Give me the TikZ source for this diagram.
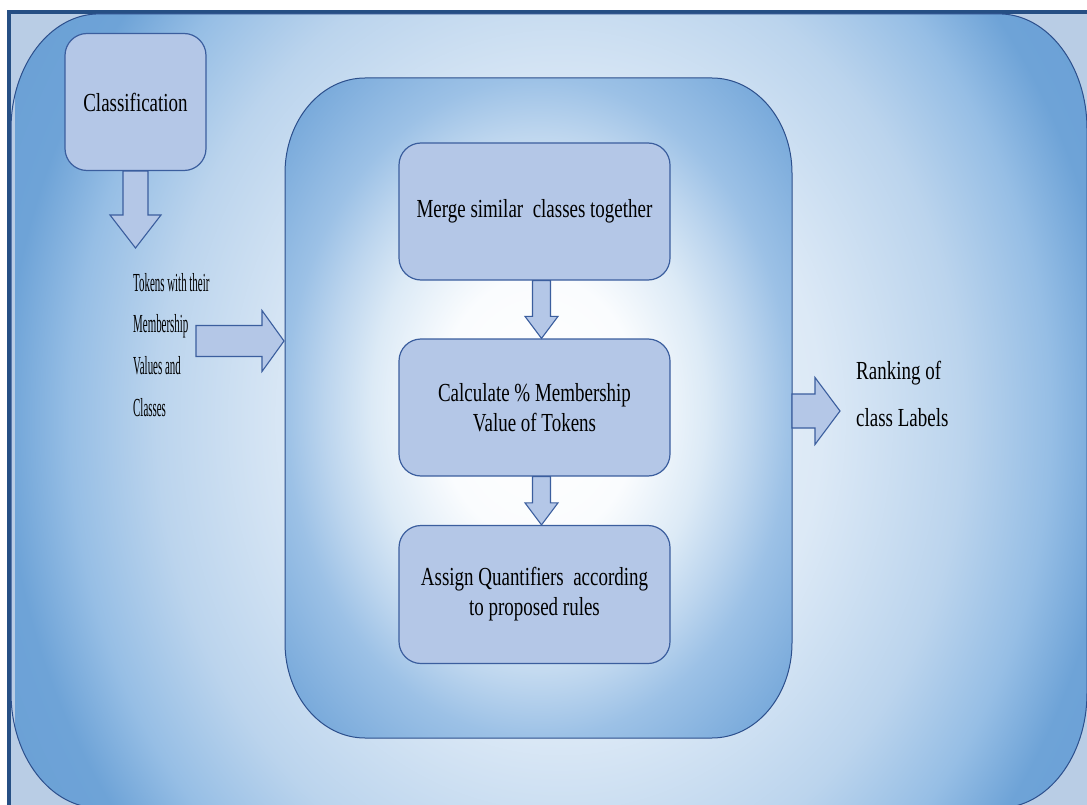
\documentclass[tikz,border=0pt]{standalone}
\usepackage{fontspec}
\setmainfont{Liberation Serif}
\newfontfamily\narrowserif[FakeStretch=0.73]{Liberation Serif}
\newfontfamily\slimserif[FakeStretch=0.42]{Liberation Serif}
\usetikzlibrary{calc}

\definecolor{framefill}{HTML}{B9CDE5}
\definecolor{frameline}{HTML}{264F84}
\definecolor{shapeline}{HTML}{2C4F8C}
\definecolor{boxfill}{HTML}{B4C7E7}
\definecolor{boxline}{HTML}{3B5E9E}

% background glow of the outer panel (25bp = edge of the shaded area)
\definecolor{og0}{HTML}{F1F6FC}
\definecolor{og1}{HTML}{DCE9F6}
\definecolor{og2}{HTML}{BBD4ED}
\definecolor{og3}{HTML}{96BEE5}
\definecolor{og4}{HTML}{6EA3D7}
\definecolor{og5}{HTML}{629AD3}
\pgfdeclareradialshading{outerglow}{\pgfpoint{0bp}{0bp}}{%
  color(0bp)=(og0); color(12bp)=(og1); color(18.5bp)=(og2);
  color(22.5bp)=(og3); color(25.5bp)=(og4); color(37.5bp)=(og5); color(50bp)=(og5)}

% glow of the central processing panel
\definecolor{ig0}{HTML}{FFFFFF}
\definecolor{ig1}{HTML}{FAFCFE}
\definecolor{ig2}{HTML}{DCEAF6}
\definecolor{ig3}{HTML}{BCD5EE}
\definecolor{ig4}{HTML}{9CC1E6}
\definecolor{ig5}{HTML}{6AA0D6}
\pgfdeclareradialshading{innerglow}{\pgfpoint{0bp}{0bp}}{%
  color(0bp)=(ig0); color(10bp)=(ig1); color(16.5bp)=(ig2);
  color(21bp)=(ig3); color(25bp)=(ig4); color(35.5bp)=(ig5); color(50bp)=(ig5)}

% rectangle with elliptical corners: x1,y1,x2,y2,rx,ry
\newcommand\ovalpath[6]{(#1+#5,#2) -- (#3-#5,#2)
  .. controls (#3-0.448*#5,#2) and (#3,#2+0.448*#6) .. (#3,#2+#6)
  -- (#3,#4-#6)
  .. controls (#3,#4-0.448*#6) and (#3-0.448*#5,#4) .. (#3-#5,#4)
  -- (#1+#5,#4)
  .. controls (#1+0.448*#5,#4) and (#1,#4-0.448*#6) .. (#1,#4-#6)
  -- (#1,#2+#6)
  .. controls (#1,#2+0.448*#6) and (#1+0.448*#5,#2) .. cycle}

% block arrow pointing down: from, to, shaft half width, head half width, head length
\newcommand\blockdown[5]{%
  \draw[blockarrow] let \p1=(#1), \p2=(#2) in
    (\x1-#3pt,\y1) -- (\x1+#3pt,\y1) -- (\x1+#3pt,\y2+#5pt) -- (\x1+#4pt,\y2+#5pt)
    -- (\x1,\y2) -- (\x1-#4pt,\y2+#5pt) -- (\x1-#3pt,\y2+#5pt) -- cycle;}
% block arrow pointing right
\newcommand\blockright[5]{%
  \draw[blockarrow] let \p1=(#1), \p2=(#2) in
    (\x1,\y1+#3pt) -- (\x2-#5pt,\y1+#3pt) -- (\x2-#5pt,\y1+#4pt) -- (\x2,\y1)
    -- (\x2-#5pt,\y1-#4pt) -- (\x2-#5pt,\y1-#3pt) -- (\x1,\y1-#3pt) -- cycle;}

\tikzset{
  stepbox/.style={draw=boxline, fill=boxfill, line width=1.2pt, rounded corners=22pt,
    minimum width=271pt, minimum height=137pt, align=center, inner sep=0pt,
    font=\narrowserif\fontsize{26}{30}\selectfont},
  blockarrow/.style={draw=boxline, fill=boxfill, line width=1.1pt, line join=miter},
  plaintext/.style={inner sep=0pt, align=left, anchor=north west},
}

\begin{document}
\begin{tikzpicture}[x=1pt,y=-1pt]
\useasboundingbox (0,0) rectangle (1087,805);
\fill[white] (0,0) rectangle (1087,805);
\begin{scope}
  \clip (0,0) rectangle (1087,805);
  % frame
  \fill[framefill] (8.7,12) rectangle (1100,820);
  \draw[frameline, line width=3.8pt] (8.7,820) -- (8.7,12) -- (1100,12);
  % outer rounded panel
  \begin{scope}
    \clip \ovalpath{11}{13.9}{1087}{808}{88}{115};
    \shade[shading=outerglow] (15,-220) rectangle (1105,1060);
  \end{scope}
  \draw[shapeline, line width=1pt] \ovalpath{11}{13.9}{1087}{808}{88}{115};
\end{scope}

% central panel
\shade[shading=innerglow] \ovalpath{285}{78}{792}{738}{80}{95};
\draw[shapeline, line width=1pt] \ovalpath{285}{78}{792}{738}{80}{95};
\coordinate (coreW) at (284,341);
\coordinate (coreE) at (792,411);

% boxes
\node[stepbox, minimum width=141pt] (class) at (135.5,102) {Classification};
\node[stepbox] (merge) at (534.5,211.5) {Merge similar \ classes together};
\node[stepbox] (calc) at (534.5,407.5) {Calculate \% Membership\\Value of Tokens};
\node[stepbox, minimum height=138pt] (assign) at (534.5,594.5) {Assign Quantifiers \ according\\to proposed rules};

% side texts
\node[plaintext, font=\slimserif\fontsize{26}{41.7}\selectfont] (tokens) at (133,273)
  {Tokens with their\\Membership\\Values and\\Classes};
\node[plaintext, font=\narrowserif\fontsize{26}{47}\selectfont] (rank) at (856,361)
  {Ranking of\\class Labels};

% arrows
\coordinate (tokTip) at (135.5,248);
\coordinate (tokTail) at (196,341);
\coordinate (rankTip) at (840,411);
\blockdown{class.south}{tokTip}{12.5}{25.5}{33}
\blockright{tokTail}{coreW}{15.5}{30.5}{22}
\blockdown{$(merge.south)+(7,0)$}{$(calc.north)+(7,0)$}{9}{16.5}{22}
\blockdown{$(calc.south)+(7,0)$}{$(assign.north)+(7,0)$}{9}{16.5}{22}
\blockright{coreE}{rankTip}{17}{33.5}{25}
\end{tikzpicture}
\end{document}
